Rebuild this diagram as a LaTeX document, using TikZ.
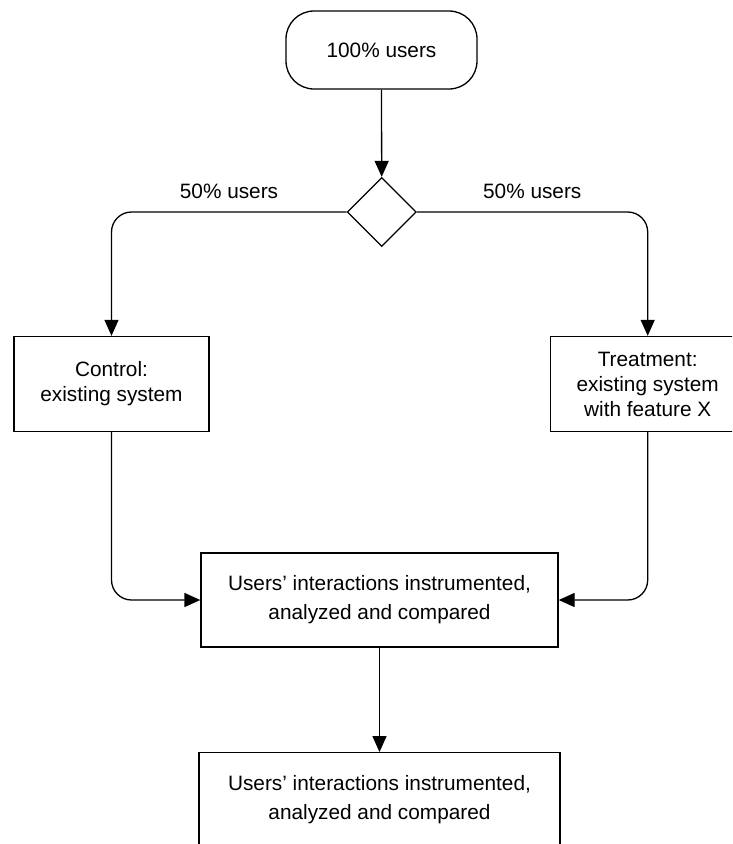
\documentclass[tikz,border=0pt]{standalone}
\usepackage{fontspec}
\setmainfont{Liberation Sans}
\usetikzlibrary{shapes.geometric,arrows.meta}
\tikzset{
  base/.style={draw=black, line width=1.3pt, align=center, inner sep=0pt,
    font=\fontsize{20.8}{25}\selectfont},
  terminal/.style={base, rectangle, rounded corners=28pt, minimum width=191pt, minimum height=78pt},
  decision/.style={base, diamond, minimum width=69pt, minimum height=69pt, aspect=1},
  procbox/.style={base, rectangle, minimum height=95pt},
  widebox/.style={procbox, minimum height=94pt, font=\fontsize{20.8}{29}\selectfont},
  conn/.style={draw=black, line width=1.3pt, -{Triangle[length=16pt,width=14pt]}},
  lbl/.style={font=\fontsize{20.8}{25}\selectfont, inner sep=3pt}
}
\begin{document}
\begin{tikzpicture}[x=1pt,y=-1pt]
\useasboundingbox (0,0) rectangle (732,844);
\clip (0,0) rectangle (732,844);
\node[terminal] (term) at (381.5,50) {100\% users};
\node[decision] (dia) at (381.7,212) {};
\node[procbox, minimum width=195pt] (ctrl) at (111.5,384) {Control:\\existing system};
\node[procbox, minimum width=194pt] (treat) at (647.7,384) {Treatment:\\existing system\\with feature X};
\node[widebox, minimum width=357pt] (mid) at (379.5,600) {Users’ interactions instrumented,\\analyzed and compared};
\node[widebox, minimum width=361pt] (bot) at (379.5,799.7) {Users’ interactions instrumented,\\analyzed and compared};
\draw[conn] (term.south) -- (dia.north);
\draw[conn, rounded corners=20pt] (dia.west) -| node[lbl, pos=0.25, above=10pt] (l1) {50\% users} (ctrl.north);
\draw[conn, rounded corners=20pt] (dia.east) -| node[lbl, pos=0.25, above=10pt] (l2) {50\% users} (treat.north);
\draw[conn, rounded corners=20pt] (ctrl.south) |- (mid.west);
\draw[conn, rounded corners=20pt] (treat.south) |- (mid.east);
\draw[conn] (mid.south) -- (bot.north);
\end{tikzpicture}
\end{document}
